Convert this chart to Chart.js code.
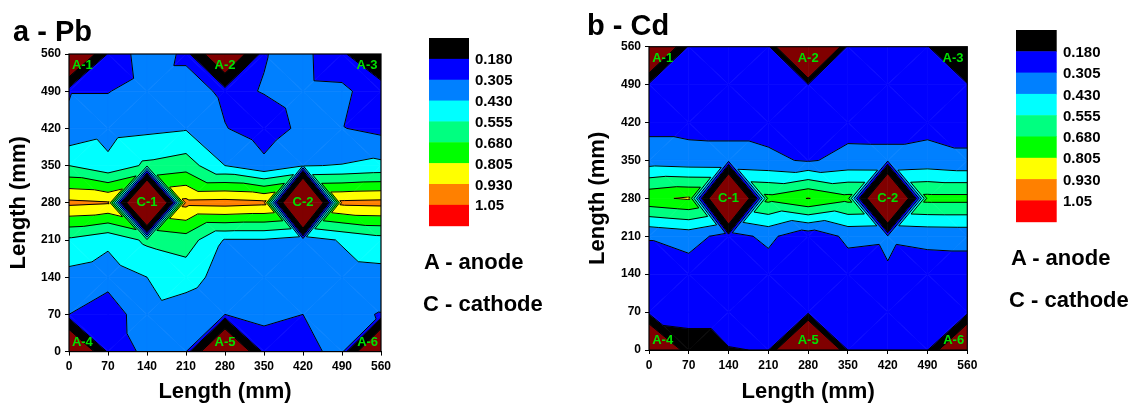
<!DOCTYPE html>
<html>
<head>
<meta charset="utf-8">
<script src="https://cdn.jsdelivr.net/npm/chart.js@4.4.1/dist/chart.umd.min.js"></script>
<style>
  body { margin: 0; background: #fff; }
  #wrap { position: relative; width: 1136px; height: 405px; overflow: hidden; font-family: "Liberation Sans", Arial, sans-serif; font-weight: bold; color: #000; }
  canvas { position: absolute; top: 0; }
  .txt { position: absolute; white-space: nowrap; line-height: 1; }
  .title { font-size: 29px; }
  .note { font-size: 22px; }
</style>
</head>
<body>
<div id="wrap">
  <canvas id="pb" width="568" height="405" style="left:0"></canvas>
  <canvas id="cd" width="568" height="405" style="left:568px"></canvas>
  <div class="txt title" style="left:13px; top:17px">a - Pb</div>
  <div class="txt title" style="left:587px; top:11px">b - Cd</div>
  <div class="txt note" style="left:424px; top:251px">A - anode</div>
  <div class="txt note" style="left:423px; top:293px">C - cathode</div>
  <div class="txt note" style="left:1011px; top:247px">A - anode</div>
  <div class="txt note" style="left:1009px; top:289px">C - cathode</div>
</div>
<script>
const xGrid = [0, 70, 140, 210, 280, 350, 420, 490, 560];
const yGrid = [560, 490, 420, 350, 280, 210, 140, 70, 0];

const pbValues = [
  [-1.0, 0.20, 0.38, 0.28, -0.72, 0.30, 0.345, 0.19, 0.107],
  [0.30, 0.30, 0.36, 0.36, 0.28, 0.31, 0.35, 0.34, 0.21],
  [0.32, 0.38, 0.40, 0.42, 0.31, 0.25, 0.33, 0.31, 0.27],
  [0.555, 0.46, 0.58, 0.62, 0.43, 0.33, 0.425, 0.435, 0.46],
  [0.96, 0.94, -1.45, 0.97, 0.98, 0.96, -1.45, 0.96, 0.97],
  [0.53, 0.46, 0.58, 0.62, 0.42, 0.42, 0.38, 0.44, 0.50],
  [0.39, 0.36, 0.43, 0.48, 0.38, 0.37, 0.37, 0.38, 0.39],
  [0.305, 0.22, 0.40, 0.36, 0.305, 0.33, 0.305, 0.33, 0.30],
  [-0.945, 0.215, 0.338, 0.31, -1.0, 0.25, 0.27, 0.34, -1.0]
];

const cdValues = [
  [-1.16, 0.22, 0.25, 0.25, -2.08, 0.25, 0.24, 0.19, -0.16],
  [0.22, 0.24, 0.25, 0.24, 0.19, 0.24, 0.25, 0.23, 0.19],
  [0.27, 0.27, 0.27, 0.27, 0.26, 0.27, 0.27, 0.27, 0.27],
  [0.364, 0.347, 0.342, 0.324, 0.295, 0.333, 0.331, 0.347, 0.322],
  [0.78, 0.82, -1.2, 0.72, 0.81, 0.72, -1.2, 0.72, 0.72],
  [0.312, 0.35, 0.263, 0.331, 0.224, 0.33, 0.32, 0.335, 0.34],
  [0.25, 0.25, 0.25, 0.25, 0.24, 0.25, 0.297, 0.25, 0.25],
  [0.25, 0.28, 0.28, 0.25, 0.25, 0.25, 0.25, 0.25, 0.25],
  [-1.2, 0.05, 0.17, 0.19, -1.85, 0.185, 0.24, 0.19, -1.2]
];

// contour levels; first one is the "below" limit (dark red)
const levels = [-0.2, 0.18, 0.305, 0.43, 0.555, 0.68, 0.805, 0.93, 1.05];
const bandColors = ['#800000', '#000000', '#0000ff', '#0080ff', '#00ffff', '#00ff80', '#00ff00', '#ffff00', '#ff8000', '#ff0000'];
const legendLabels = ['0.180', '0.305', '0.430', '0.555', '0.680', '0.805', '0.930', '1.05'];

const electrodeNames = ['A-1', 'A-2', 'A-3', 'A-4', 'A-5', 'A-6', 'C-1', 'C-2'];
const electrodeX = [24, 280, 535, 24, 280, 536, 140, 420];
const electrodeY = [538, 538, 538, 17, 17, 17, 280, 280];

const axisTicks = [0, 70, 140, 210, 280, 350, 420, 490, 560];

Chart.defaults.font.family = '"Liberation Sans", Arial, sans-serif';
Chart.defaults.font.weight = 'bold';
Chart.defaults.color = '#000';

function clipPoly(poly, level, above) {
  const out = [];
  for (let k = 0; k < poly.length; k++) {
    const p = poly[k], q = poly[(k + 1) % poly.length];
    const pin = above ? p.v >= level : p.v <= level;
    const qin = above ? q.v >= level : q.v <= level;
    if (pin) out.push(p);
    if (pin !== qin) {
      const t = (level - p.v) / (q.v - p.v);
      out.push({ x: p.x + t * (q.x - p.x), y: p.y + t * (q.y - p.y), v: level });
    }
  }
  return out;
}

// split every cell along the diagonal joining its two "odd" nodes
function triangles(chart, values) {
  const sx = chart.scales.x, sy = chart.scales.y;
  const node = (r, c) => ({ x: sx.getPixelForValue(xGrid[c]), y: sy.getPixelForValue(yGrid[r]), v: values[r][c] });
  const tris = [];
  for (let r = 0; r < yGrid.length - 1; r++) {
    for (let c = 0; c < xGrid.length - 1; c++) {
      const a = node(r, c), b = node(r, c + 1), d = node(r + 1, c), e = node(r + 1, c + 1);
      if ((r + c) % 2 === 1) {
        tris.push([a, b, e], [a, e, d]);
      } else {
        tris.push([a, b, d], [b, e, d]);
      }
    }
  }
  return tris;
}

const contourPlugin = {
  id: 'contour',
  beforeDatasetsDraw(chart, args, opts) {
    const { ctx, chartArea: area } = chart;
    const tris = triangles(chart, opts.values);
    ctx.save();
    ctx.beginPath();
    ctx.rect(area.left, area.top, area.right - area.left, area.bottom - area.top);
    ctx.clip();
    ctx.lineJoin = 'round';
    for (const tri of tris) {
      for (let k = 0; k < bandColors.length; k++) {
        let poly = tri;
        if (k > 0) poly = clipPoly(poly, levels[k - 1], true);
        if (poly.length && k < levels.length) poly = clipPoly(poly, levels[k], false);
        if (poly.length < 3) continue;
        ctx.beginPath();
        ctx.moveTo(poly[0].x, poly[0].y);
        for (let i = 1; i < poly.length; i++) ctx.lineTo(poly[i].x, poly[i].y);
        ctx.closePath();
        ctx.fillStyle = bandColors[k];
        ctx.strokeStyle = bandColors[k];
        ctx.lineWidth = 0.7;
        ctx.fill();
        ctx.stroke();
      }
    }
    // contour lines
    ctx.strokeStyle = '#000';
    ctx.lineWidth = 1;
    ctx.beginPath();
    for (const tri of tris) {
      for (const L of levels) {
        const pts = [];
        for (let i = 0; i < 3; i++) {
          const p = tri[i], q = tri[(i + 1) % 3];
          if ((p.v < L) !== (q.v < L)) {
            const t = (L - p.v) / (q.v - p.v);
            pts.push([p.x + t * (q.x - p.x), p.y + t * (q.y - p.y)]);
          }
        }
        if (pts.length === 2) {
          ctx.moveTo(pts[0][0], pts[0][1]);
          ctx.lineTo(pts[1][0], pts[1][1]);
        }
      }
    }
    ctx.stroke();
    ctx.restore();
  }
};

const labelPlugin = {
  id: 'electrodeLabels',
  afterDatasetsDraw(chart) {
    const { ctx } = chart;
    const meta = chart.getDatasetMeta(0);
    ctx.save();
    ctx.font = 'bold 13px "Liberation Sans", Arial, sans-serif';
    ctx.fillStyle = '#00e000';
    ctx.textAlign = 'center';
    ctx.textBaseline = 'middle';
    meta.data.forEach((pt, k) => ctx.fillText(electrodeNames[k], pt.x, pt.y));
    // plot frame
    const a = chart.chartArea;
    ctx.strokeStyle = '#000';
    ctx.lineWidth = 1.2;
    ctx.strokeRect(a.left, a.top, a.right - a.left, a.bottom - a.top);
    ctx.restore();
  }
};

const colorbarPlugin = {
  id: 'colorbar',
  afterDraw(chart, args, opts) {
    const { ctx } = chart;
    const n = bandColors.length - 1;
    const bh = opts.h / n;
    ctx.save();
    for (let k = 1; k < bandColors.length; k++) {
      ctx.fillStyle = bandColors[k];
      ctx.fillRect(opts.x, opts.y + (k - 1) * bh, opts.w, bh + 0.5);
    }
    ctx.fillStyle = '#000';
    ctx.font = 'bold 15px "Liberation Sans", Arial, sans-serif';
    ctx.textAlign = 'left';
    ctx.textBaseline = 'middle';
    legendLabels.forEach((t, i) => ctx.fillText(t, opts.labelX, opts.y + (i + 1) * bh + 1.5));
    ctx.restore();
  }
};

function makeChart(id, values, f) {
  return new Chart(document.getElementById(id), {
    type: 'scatter',
    data: {
      datasets: [{
        data: electrodeNames.map((n, k) => ({ x: electrodeX[k], y: electrodeY[k] })),
        pointRadius: 0,
        pointHoverRadius: 0
      }]
    },
    options: {
      responsive: false,
      animation: false,
      events: [],
      layout: { padding: { top: f.top, right: f.right, left: 0, bottom: 0 } },
      plugins: {
        legend: { display: false },
        tooltip: { enabled: false },
        contour: { values: values },
        colorbar: f.bar
      },
      scales: {
        x: {
          type: 'linear', min: 0, max: 560,
          afterBuildTicks: s => { s.ticks = axisTicks.map(v => ({ value: v })); },
          afterFit: s => { s.height = f.xh; },
          ticks: { font: { size: 12, weight: 'bold' }, padding: 4, maxRotation: 0 },
          grid: { drawOnChartArea: false, tickLength: 4, color: '#000' },
          border: { color: '#000', width: 1 },
          title: { display: true, text: 'Length (mm)', font: { size: 22, weight: 'bold' }, padding: { top: 0, bottom: 0 } }
        },
        y: {
          type: 'linear', min: 0, max: 560,
          afterBuildTicks: s => { s.ticks = axisTicks.map(v => ({ value: v })); },
          afterFit: s => { s.width = f.yw; },
          ticks: { font: { size: 12, weight: 'bold' }, padding: 4 },
          grid: { drawOnChartArea: false, tickLength: 4, color: '#000' },
          border: { color: '#000', width: 1 },
          title: { display: true, text: 'Length (mm)', font: { size: 22, weight: 'bold' }, padding: { top: f.ytp, bottom: 0 } }
        }
      }
    },
    plugins: [contourPlugin, labelPlugin, colorbarPlugin]
  });
}

makeChart('pb', pbValues, { top: 54, right: 187, xh: 53.4, yw: 69, ytp: 6,
  bar: { x: 429, y: 38, w: 40, h: 187.7, labelX: 475 } });
makeChart('cd', cdValues, { top: 46.7, right: 168.7, xh: 55, yw: 81, ytp: 17,
  bar: { x: 448, y: 30, w: 40.7, h: 191.7, labelX: 495 } });
</script>
</body>
</html>
